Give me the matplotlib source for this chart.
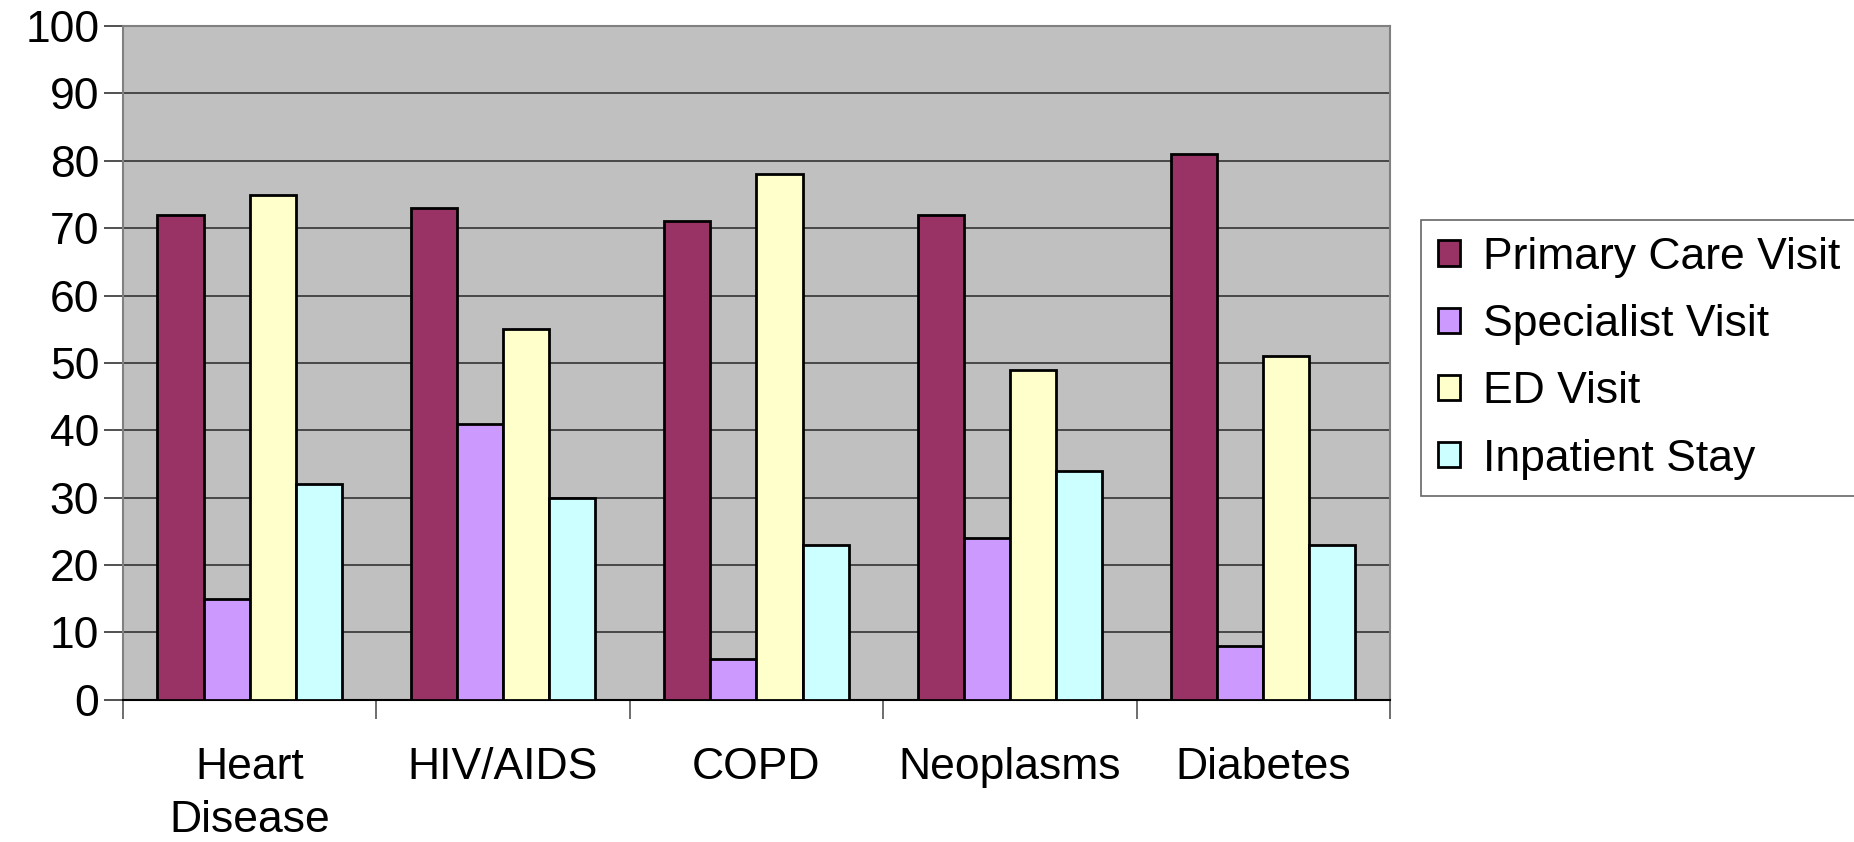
import numpy as np
import matplotlib.pyplot as plt
from matplotlib.patches import Patch

plt.rcParams["font.family"] = ["Liberation Sans", "DejaVu Sans"]

categories = ["Heart\nDisease", "HIV/AIDS", "COPD", "Neoplasms", "Diabetes"]
series_names = ["Primary Care Visit", "Specialist Visit", "ED Visit", "Inpatient Stay"]
primary_care = [72, 73, 71, 72, 81]
specialist = [15, 41, 6, 24, 8]
ed_visit = [75, 55, 78, 49, 51]
inpatient = [32, 30, 23, 34, 23]
colors = ["#993366", "#CC99FF", "#FFFFCC", "#CCFFFF"]


def plot_visits() -> None:
    fig = plt.figure(figsize=(18.54, 8.42), dpi=100)
    ax = fig.add_axes([0.0663, 0.169, 0.6834, 0.8])
    ax.set_facecolor("#C0C0C0")

    x = np.arange(len(categories))
    width = 0.182
    values = [primary_care, specialist, ed_visit, inpatient]
    for i, (vals, col) in enumerate(zip(values, colors)):
        ax.bar(x + (i - 1.5) * width, vals, width, color=col,
               edgecolor="black", linewidth=2.0, zorder=3)

    ax.set_xlim(-0.5, len(categories) - 0.5)
    ax.set_ylim(0, 100)
    ax.set_yticks(np.arange(0, 101, 10))
    ax.yaxis.grid(True, color="#333333", linewidth=1.2, zorder=0)
    ax.set_axisbelow(True)

    # boundaries get tick marks, centres carry the labels
    ax.set_xticks(np.arange(-0.5, len(categories), 1.0))
    ax.set_xticklabels([])
    ax.set_xticks(x, minor=True)
    ax.set_xticklabels(categories, minor=True, fontsize=32, linespacing=1.38)
    ax.tick_params(axis="x", which="major", length=14, width=1.2, color="#555555")
    ax.tick_params(axis="x", which="minor", length=0, pad=34)
    ax.tick_params(axis="y", length=14, width=1.2, pad=3, labelsize=32,
                   color="#333333")

    for side in ["top", "right", "left"]:
        ax.spines[side].set_color("#808080")
        ax.spines[side].set_linewidth(1.5)
    ax.spines["bottom"].set_color("black")
    ax.spines["bottom"].set_linewidth(1.5)

    handles = [Patch(facecolor=c, edgecolor="black", linewidth=2.0) for c in colors]
    leg = fig.legend(handles, series_names, loc="upper left",
                     bbox_to_anchor=(1421 / 1854, 1 - 220 / 842),
                     fontsize=32, frameon=True, fancybox=False,
                     handlelength=0.5, handleheight=0.5, handletextpad=0.52,
                     labelspacing=0.59, borderpad=0.38, borderaxespad=0)
    leg.get_frame().set_edgecolor("#404040")
    leg.get_frame().set_linewidth(1.2)

    fig.savefig("out.png", dpi=100)
    plt.close(fig)


if __name__ == "__main__":
    plot_visits()
